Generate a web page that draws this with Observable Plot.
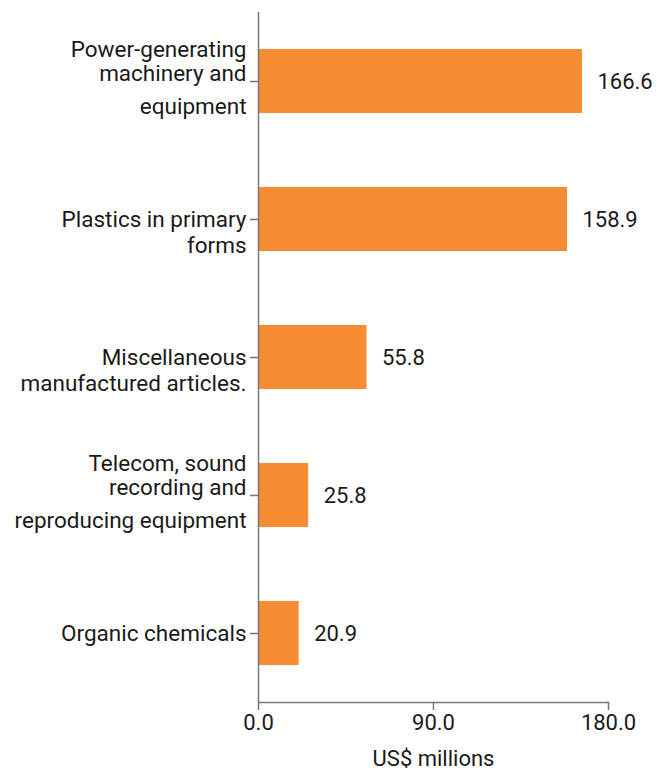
<!DOCTYPE html>
<html>
<head>
<meta charset="utf-8">
<script src="https://cdn.jsdelivr.net/npm/d3@7"></script>
<script src="https://cdn.jsdelivr.net/npm/@observablehq/plot@0.6"></script>
<style>
  html, body { margin: 0; padding: 0; background: #fff; }
  #chart svg { display: block; }
</style>
</head>
<body>
<div id="chart"></div>
<script>
const categories = [
  "Power-generating machinery and equipment",
  "Plastics in primary forms",
  "Miscellaneous manufactured articles.",
  "Telecom, sound recording and reproducing equipment",
  "Organic chemicals"
];
const labelLines = [
  ["Power-generating", "machinery and", "equipment"],
  ["Plastics in primary", "forms"],
  ["Miscellaneous", "manufactured articles."],
  ["Telecom, sound", "recording and", "reproducing equipment"],
  ["Organic chemicals"]
];
const values = [166.6, 158.9, 55.8, 25.8, 20.9];
const xTicks = [0, 90, 180];
const xLabel = "US$ millions";

const data = categories.map((c, i) => ({category: c, value: values[i], lines: labelLines[i]}));

// label line offsets (relative to the tick), per number of lines
const lineOffsets = {1: [0], 2: [0, 26], 3: [-32, -8, 25]};
const lineRows = data.flatMap(d => d.lines.map((t, j) => ({category: d.category, text: t, dy: lineOffsets[d.lines.length][j]})));

const ink = "#1a1a1a";
const axisColor = "#777777";
const fs = 22;
const labelFs = 22.5;

const textMarks = [...new Set(lineRows.map(r => r.dy))].map(dy =>
  Plot.text(lineRows.filter(r => r.dy === dy), {
    x: 0, y: "category", text: "text", dx: -12, dy,
    textAnchor: "end", fill: ink, fontSize: labelFs
  })
);

const chart = Plot.plot({
  width: 669,
  height: 771,
  marginLeft: 258,
  marginRight: 61,
  marginTop: 12,
  marginBottom: 69,
  style: {fontFamily: "Roboto, sans-serif", fontSize: fs + "px", color: ink, background: "#fff"},
  x: {domain: [0, 180]},
  y: {domain: categories, padding: 0},
  marks: [
    Plot.barX(data, {x: "value", y: "category", fill: "#F68D33", insetTop: 37, insetBottom: 37}),
    Plot.text(data, {x: "value", y: "category", text: d => d.value.toFixed(1), dx: 15, textAnchor: "start", fill: ink, fontSize: fs}),
    ...textMarks,
    Plot.ruleX([0], {stroke: axisColor, strokeWidth: 1.5}),
    Plot.frame({anchor: "bottom", stroke: axisColor, strokeWidth: 1.5}),
    Plot.axisY({ticks: categories, tickSize: 8, tickFormat: () => "", stroke: axisColor, strokeWidth: 1.5, label: null}),
    Plot.axisX({ticks: xTicks, tickSize: 8, tickPadding: 4, tickFormat: d => d.toFixed(1), stroke: axisColor, strokeWidth: 1.5, fill: ink, fontSize: fs,
      label: xLabel, labelAnchor: "center", labelArrow: "none", labelOffset: 63})
  ]
});
document.getElementById("chart").appendChild(chart);
</script>
</body>
</html>
